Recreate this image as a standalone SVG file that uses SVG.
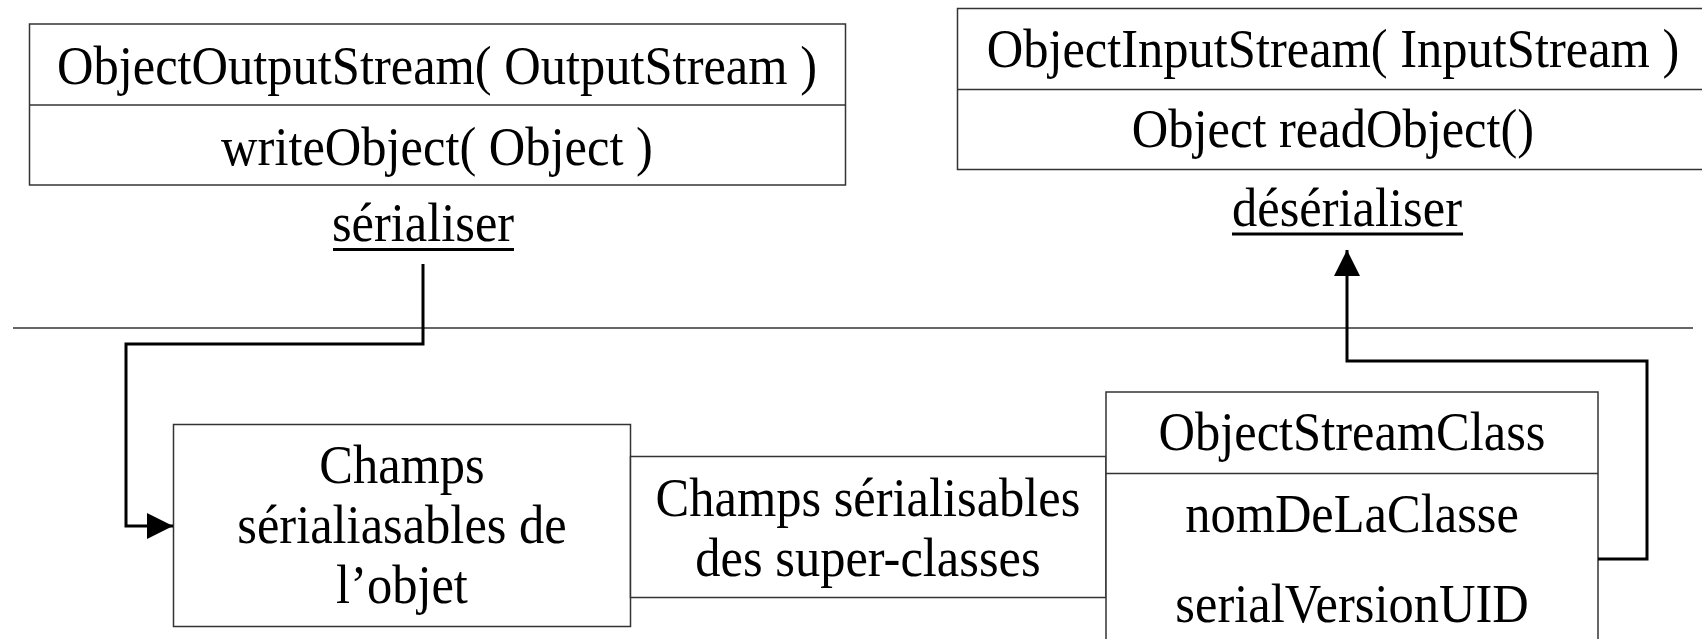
<svg xmlns="http://www.w3.org/2000/svg" width="1702" height="639" viewBox="0 0 1702 639">
<defs>
<style>
.box{fill:#fff;stroke:#333;stroke-width:1.5}
.sep{stroke:#333;stroke-width:1.5}
.t{font-family:"Liberation Serif","Times New Roman",serif;font-size:50.5px;fill:#000;text-anchor:middle}
.conn{fill:none;stroke:#000;stroke-width:3}
.ul{stroke:#000;stroke-width:3}
</style>
<marker id="ah" markerWidth="26" markerHeight="26" viewBox="0 0 26 26" refX="26" refY="13" orient="auto" markerUnits="userSpaceOnUse">
<path d="M0,0 L26,13 L0,26 Z" fill="#000"/>
</marker>
</defs>
<rect width="1702" height="639" fill="#fff"/>
<line class="sep" x1="13" y1="328" x2="1693" y2="328"/>
<g id="oos">
<rect class="box" x="29.5" y="24" width="816" height="161"/>
<line class="sep" x1="29.5" y1="105" x2="845.5" y2="105"/>
<text class="t" transform="translate(437,84) scale(1,1.08)">ObjectOutputStream( OutputStream )</text>
<text class="t" transform="translate(437,165) scale(1,1.08)">writeObject( Object )</text>
</g>
<g id="serialiser">
<text class="t" transform="translate(423,241) scale(1,1.08)">sérialiser</text>
<line class="ul" x1="333" y1="249.5" x2="514" y2="249.5"/>
</g>
<g id="ois">
<rect class="box" x="957.5" y="8.5" width="760" height="161"/>
<line class="sep" x1="957.5" y1="89.5" x2="1702" y2="89.5"/>
<text class="t" transform="translate(1333,67) scale(1,1.08)">ObjectInputStream( InputStream )</text>
<text class="t" transform="translate(1333,147) scale(1,1.08)">Object readObject()</text>
</g>
<g id="deserialiser">
<text class="t" transform="translate(1347,226) scale(1,1.08)">désérialiser</text>
<line class="ul" x1="1232" y1="234" x2="1463" y2="234"/>
</g>
<g id="champs-objet">
<rect class="box" x="173.5" y="424.5" width="457" height="202"/>
<text class="t" transform="translate(402,483) scale(1,1.08)">Champs</text>
<text class="t" transform="translate(402,543) scale(1,1.08)">sérialiasables de</text>
<text class="t" transform="translate(402,603) scale(1,1.08)">l’objet</text>
</g>
<g id="champs-super">
<rect class="box" x="630.5" y="456.5" width="475.5" height="141"/>
<text class="t" transform="translate(868,516) scale(1,1.08)">Champs sérialisables</text>
<text class="t" transform="translate(868,576) scale(1,1.08)">des super-classes</text>
</g>
<g id="osc">
<rect class="box" x="1106" y="392" width="492" height="260"/>
<line class="sep" x1="1106" y1="473.5" x2="1598" y2="473.5"/>
<text class="t" transform="translate(1352,450) scale(1,1.08)">ObjectStreamClass</text>
<text class="t" transform="translate(1352,532) scale(1,1.08)">nomDeLaClasse</text>
<text class="t" transform="translate(1352,622) scale(1,1.08)">serialVersionUID</text>
</g>
<g id="connectors">
<path class="conn" d="M423,264 V344 H126 V526 H173" marker-end="url(#ah)"/>
<path class="conn" d="M1598,559 H1647 V361 H1347 V250" marker-end="url(#ah)"/>
</g>
</svg>
